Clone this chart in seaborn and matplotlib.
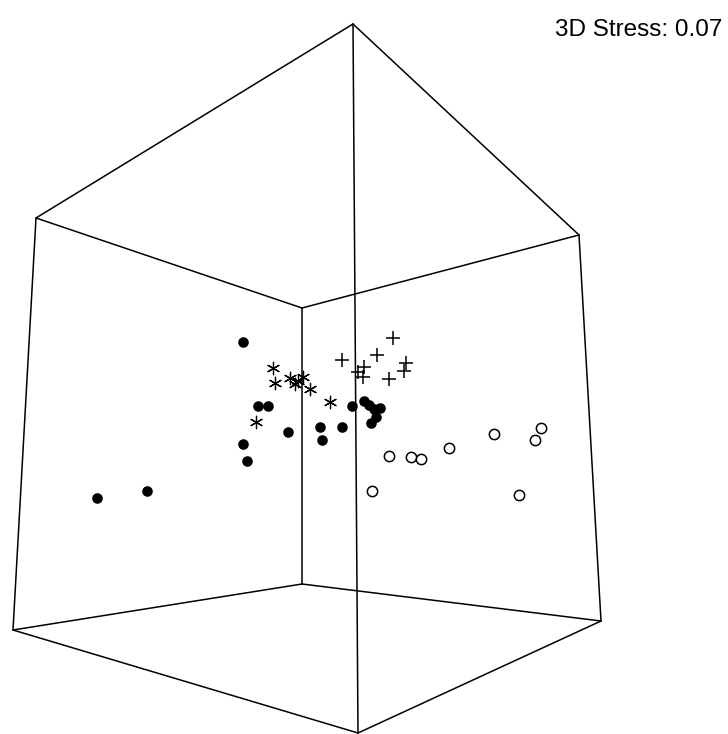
import numpy as np
import pandas as pd
import seaborn as sns
import matplotlib.pyplot as plt

# Projected cube corners (screen coords of the 3D box)
corner_x = [353, 36, 579, 302, 13, 302, 358, 601]
corner_y = [24, 218, 235, 308, 630, 584, 733, 621]
# Edges as pairs of corner indices
edges = [(0, 1), (0, 2), (0, 6), (1, 3), (3, 2), (1, 4),
         (3, 5), (2, 7), (4, 5), (5, 7), (4, 6), (6, 7)]

# Group 1: filled circles
g1_x = [243, 258, 268, 288, 320, 322, 342, 352, 364, 369, 374, 380, 376, 371, 243, 247, 97, 147]
g1_y = [342, 406, 406, 432, 427, 440, 427, 406, 401, 405, 409, 408, 417, 423, 444, 461, 498, 491]
# Group 2: asterisks
g2_x = [273, 275, 290, 295, 298, 303, 310, 330, 256]
g2_y = [368, 383, 378, 384, 381, 377, 389, 402, 422]
# Group 3: plus signs
g3_x = [342, 393, 377, 364, 358, 363, 389, 406, 404]
g3_y = [360, 338, 355, 367, 372, 377, 379, 363, 371]
# Group 4: open circles
g4_x = [389, 411, 421, 449, 494, 541, 535, 372, 519]
g4_y = [456, 457, 459, 448, 434, 428, 440, 491, 495]

stress_label = "3D Stress: 0.07"

sns.set_style("white")
plt.rcParams['font.family'] = ['Liberation Sans', 'DejaVu Sans']

fig = plt.figure(figsize=(7.28, 7.34), dpi=100)
ax = fig.add_axes([0, 0, 1, 1])

# Cube wireframe
for i, j in edges:
    ax.plot([corner_x[i], corner_x[j]], [corner_y[i], corner_y[j]],
            color='black', lw=1.1, solid_capstyle='round', zorder=1)

df1 = pd.DataFrame({'x': g1_x, 'y': g1_y})
df2 = pd.DataFrame({'x': g2_x, 'y': g2_y})
df3 = pd.DataFrame({'x': g3_x, 'y': g3_y})
df4 = pd.DataFrame({'x': g4_x, 'y': g4_y})

sns.scatterplot(data=df1, x='x', y='y', ax=ax, marker='o', s=58,
                color='black', edgecolor='black', linewidth=0, zorder=3)
sns.scatterplot(data=df2, x='x', y='y', ax=ax, marker=(6, 2, 0), s=80,
                color='black', linewidth=0.9, zorder=3)
sns.scatterplot(data=df3, x='x', y='y', ax=ax, marker='+', s=100,
                color='black', linewidth=1.1, zorder=3)
sns.scatterplot(data=df4, x='x', y='y', ax=ax, marker='o', s=55,
                facecolor='white', edgecolor='black', linewidth=1.1, zorder=3)

ax.text(722, 30, stress_label, ha='right', va='center', fontsize=17.5, color='black')

ax.set_xlim(0, 728)
ax.set_ylim(734, 0)
ax.set_axis_off()

plt.savefig('out.png', dpi=100)
